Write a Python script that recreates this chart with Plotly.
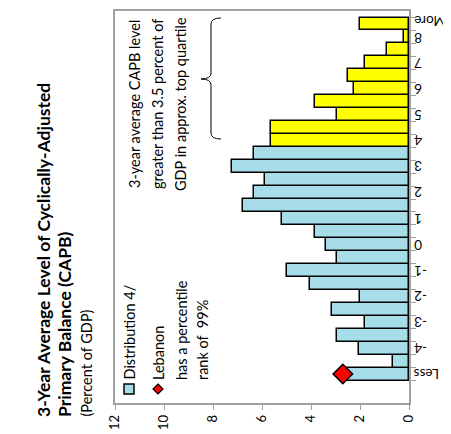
import plotly.graph_objects as go

categories = ["Less", "-4.5", "-4", "-3.5", "-3", "-2.5", "-2", "-1.5", "-1", "-0.5",
              "0", "0.5", "1", "1.5", "2", "2.5", "3", "3.5", "4", "4.5",
              "5", "5.5", "6", "6.5", "7", "7.5", "8", "More"]
shares = [2.70, 0.67, 2.03, 2.93, 1.79, 3.16, 2.02, 4.05, 4.97, 2.93,
          3.37, 3.83, 5.18, 6.77, 6.33, 5.88, 7.22, 6.33, 5.63, 5.63,
          2.93, 3.83, 2.26, 2.47, 1.79, 0.89, 0.22, 2.02]
tick_labels = ["Less", "-4", "-3", "-2", "-1", "0", "1", "2", "3",
               "4", "5", "6", "7", "8", "More"]
top_quartile_from = "4"
lebanon_category = "Less"
lebanon_value = 2.70

W, H = 451, 434
L, R, T, B = 107, 50, 3, 39
PW, PH = W - L - R, H - T - B
FONT = "Lato"
BLUE = "#a6dde9"
GREY = "#a0a0a0"


def px(x):
    return (x - L) / PW


def py(y):
    return (H - B - y) / PH


cut = categories.index(top_quartile_from)
colors = [BLUE if i < cut else "#ffff00" for i in range(len(categories))]

fig = go.Figure()
fig.add_trace(go.Bar(
    x=shares, y=categories, orientation="h",
    marker=dict(color=colors, line=dict(color="black", width=1.5)),
))
fig.add_trace(go.Scatter(
    x=[lebanon_value], y=[lebanon_category], mode="markers",
    marker=dict(symbol="diamond", size=15, color="#ff0000",
                line=dict(color="black", width=1.5)),
))


def vtext(text, x, y, size=14.5, bold=False, xanchor="center", yanchor="bottom"):
    if bold:
        text = "<b>" + text + "</b>"
    fig.add_annotation(
        text=text, x=px(x), y=py(y), xref="paper", yref="paper",
        textangle=-90, showarrow=False, xanchor=xanchor, yanchor=yanchor,
        font=dict(family=FONT, size=size, color="black"),
    )


# title
vtext("3-Year Average Level of Cyclically-Adjusted", 35, 411, size=17.5, bold=True)
vtext("Primary Balance (CAPB)", 56, 411, size=17.5, bold=True)
vtext("(Percent of GDP)", 78, 411, size=14.5)

# note on top quartile
vtext("3-year average CAPB level", 126, 96, yanchor="middle")
vtext("greater than 3.5 percent of", 149, 96, yanchor="middle")
vtext("GDP in approx. top quartile", 172, 96, yanchor="middle")

# legend
vtext("Distribution 4/", 121, 374)
vtext("Lebanon", 150, 374)
vtext("has a percentile", 173, 374)
vtext("rank of  99%", 194, 374)

# category labels, upside down as in the source (every other bin)
for i, c in enumerate(categories):
    if c in tick_labels:
        fig.add_annotation(
            text=c, x=px(404), y=i, xref="paper", yref="y",
            textangle=180, showarrow=False, xanchor="left", yanchor="middle",
            yshift=3 if c == "More" else (-1 if c == "8" else 0),
            font=dict(family=FONT, size=13.5, color="black"),
        )

fig.add_shape(type="rect", xref="paper", yref="paper",
              x0=px(116), x1=px(126), y0=py(386), y1=py(376),
              fillcolor=BLUE, line=dict(color="black", width=1.5))
fig.add_shape(type="path", xref="paper", yref="paper",
              path="M {},{} L {},{} L {},{} L {},{} Z".format(
                  px(150), py(376), px(155), py(381), px(150), py(386), px(145), py(381)),
              fillcolor="#ff0000", line=dict(color="black", width=1.2))

# brace
path = "M {},{} Q {},{} {},{} L {},{} Q {},{} {},{} Q {},{} {},{} L {},{} Q {},{} {},{}".format(
    px(213), py(10), px(203), py(10), px(203), py(16),
    px(203), py(65),
    px(203), py(71), px(193), py(71),
    px(203), py(71), px(203), py(77),
    px(203), py(125),
    px(203), py(131), px(213), py(131),
)
fig.add_shape(type="path", xref="paper", yref="paper", path=path,
              line=dict(color="black", width=1))

fig.update_layout(
    width=W, height=H,
    margin=dict(l=L, r=R, t=T, b=B),
    paper_bgcolor="white", plot_bgcolor="white",
    showlegend=False, bargap=0,
    font=dict(family=FONT, size=13, color="black"),
    xaxis=dict(range=[12, 0], dtick=2, tickangle=-90, ticks="outside",
               ticklen=5, tickcolor=GREY, showline=True, linecolor=GREY,
               linewidth=1.5, mirror=True, showgrid=False, zeroline=False,
               automargin=False, tickfont=dict(size=13)),
    yaxis=dict(type="category", side="right", tickson="boundaries",
               tickvals=categories, showticklabels=False,
               ticks="outside", ticklen=5, tickcolor=GREY,
               showline=True, linecolor=GREY, linewidth=1.5, mirror=True,
               showgrid=False, automargin=False),
)

fig.write_html("out.html")
